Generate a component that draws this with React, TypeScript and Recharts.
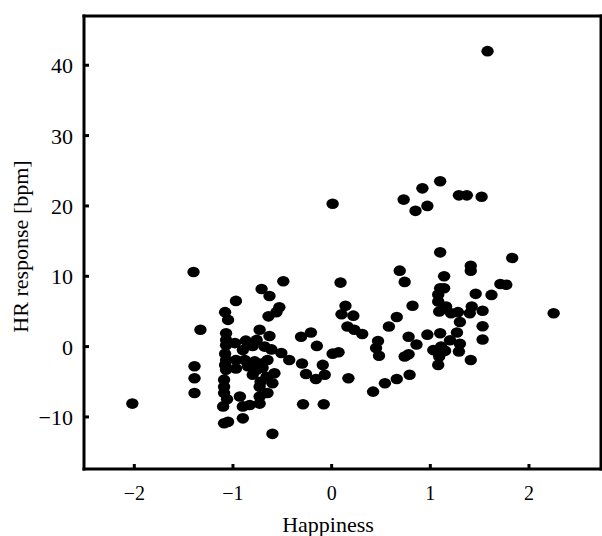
import { ScatterChart, Scatter, XAxis, YAxis } from "recharts";

// Happiness score (x) and heart-rate response in bpm (y), one entry per subject
const happiness = [
  -2.02, -1.4, -1.33, -1.39, -1.39, -1.39,
  -0.49, -0.71, -0.63, -0.97, -0.53, -0.56, -1.08, -1.05, -0.64, -0.73, -0.63, -1.07, -1.07, -1.07,
  -0.87, -0.98, -0.76, -0.9, -0.8, -0.68, -0.61, -0.51, -0.43, -1.07, -0.97, -0.88, -0.78, -0.71,
  -0.65, -1.07, -0.97, -0.76, -0.58, -0.66, -1.09, -1.09, -0.6, -0.73, -1.09, -0.65, -0.93, -0.73,
  -1.1, -0.9, -0.83, -0.73, -1.05, -1.09, -0.9, -0.6, -0.29, -0.08, -1.08, -1.08, -0.85, -0.7,
  -0.8, -1.06, -0.72,
  -0.31, -0.21, -0.15, -0.3, -0.09, -0.26, -0.16, -0.07, 0.01, 0.07, 0.09, 0.01, 0.14, 0.1, 0.22,
  0.16, 0.23, 0.31, 0.17, 0.42, 0.54, 0.66, 0.79, 0.47, 0.45, 0.48, 0.58, 0.66, 0.82, 0.78, 0.86,
  0.74, 0.78, 0.69, 0.74, 0.73, 0.92, 0.85, 0.97, 1.1, 1.29, 1.37, 1.52, 1.58,
  1.1, 1.83, 1.41, 1.41, 1.14, 1.1, 1.14, 1.08, 1.08, 1.16, 1.09, 1.21, 1.28, 1.3, 1.46, 1.62,
  1.71, 1.77, 1.42, 1.4, 1.53, 1.53, 1.53, 2.25, 0.97, 1.1, 1.2, 1.27, 1.3, 1.29, 1.03, 1.11,
  1.15, 1.09, 1.08, 1.41,
];

const hrResponse = [
  -8.1, 10.6, 2.4, -2.8, -4.5, -6.6,
  9.3, 8.2, 7.2, 6.5, 5.6, 4.9, 4.9, 3.8, 4.3, 2.4, 1.5, 1.9, 0.95, 0.2,
  0.85, 0.5, 0.95, -0.5, 0.1, 0.0, -0.4, -0.9, -1.9, -1.9, -1.9, -1.9, -2.1, -2.4,
  -1.9, -3.3, -3.1, -3.3, -3.8, -4.3, -4.7, -5.7, -5.2, -5.7, -6.6, -6.6, -7.1, -7.1,
  -8.5, -8.5, -8.3, -8.1, -10.7, -10.9, -10.2, -12.4, -8.2, -8.2, -1.0, -2.6, -2.8, -3.0,
  -4.0, -7.5, -5.0,
  1.4, 2.0, 0.1, -2.4, -2.6, -3.9, -4.6, -4.0, -1.0, -0.8, 9.1, 20.3, 5.8, 4.6, 4.4,
  2.85, 2.4, 1.8, -4.5, -6.4, -5.2, -4.6, -4.0, 0.8, -0.2, -1.3, 2.85, 4.2, 5.8, 1.4, 0.3,
  -1.4, -1.1, 10.8, 9.2, 20.9, 22.5, 19.3, 20.0, 23.5, 21.5, 21.5, 21.3, 42.0,
  13.4, 12.6, 11.5, 10.8, 10.0, 8.3, 8.3, 7.4, 6.4, 5.7, 5.0, 4.75, 4.9, 3.5, 7.5, 7.35,
  8.9, 8.8, 5.7, 4.75, 5.1, 2.9, 1.0, 4.75, 1.7, 1.9, 0.9, 2.0, 0.4, -0.7, -0.5, 0.0,
  -0.6, -1.4, -2.6, -1.9,
];

const xTicks = [-2, -1, 0, 1, 2];
const yTicks = [-10, 0, 10, 20, 30, 40];

const points = happiness.map((x, i) => ({ x, y: hrResponse[i] }));

const font = '"Liberation Serif", "Times New Roman", serif';
const fmt = (v: number) => (v < 0 ? "\u2212" + Math.abs(v) : String(v));
const frame = { stroke: "#000", strokeWidth: 3, strokeLinecap: "square" as const };

function BottomTick({ x, y, payload }: any) {
  return (
    <g>
      <line x1={x} y1={y} x2={x} y2={y - 5} stroke="#000" strokeWidth={3} />
      <text x={x} y={y + 31} textAnchor="middle" fontSize={20} fontFamily={font} fill="#000">
        {fmt(payload.value)}
      </text>
    </g>
  );
}

function TopTick({ x, y }: any) {
  return <line x1={x} y1={y} x2={x} y2={y + 5} stroke="#000" strokeWidth={3} />;
}

function LeftTick({ x, y, payload }: any) {
  return (
    <g>
      <line x1={x} y1={y} x2={x + 5} y2={y} stroke="#000" strokeWidth={3} />
      <text x={x - 11} y={y + 8} textAnchor="end" fontSize={22} fontFamily={font} fill="#000">
        {fmt(payload.value)}
      </text>
    </g>
  );
}

function RightTick({ x, y }: any) {
  return <line x1={x} y1={y} x2={x - 5} y2={y} stroke="#000" strokeWidth={3} />;
}

const Dot = (p: any) => <ellipse cx={p.cx} cy={p.cy} rx={6.2} ry={5.3} fill="#000" />;

export default function App() {
  return (
    <div style={{ position: "absolute", top: 0, left: 0, width: 602, height: 536, fontFamily: font }}>
      <ScatterChart width={602} height={536} margin={{ top: 0, right: 0, bottom: 0, left: 0 }}>
        <XAxis
          type="number"
          dataKey="x"
          domain={[-2.51, 2.73]}
          ticks={xTicks}
          interval={0}
          height={67}
          tickSize={0}
          tickMargin={0}
          tickLine={false}
          axisLine={frame}
          tick={(p: any) => <BottomTick {...p} />}
          label={{
            content: ({ viewBox }: any) => (
              <text
                x={viewBox.x + 244}
                y={viewBox.y + 63}
                textAnchor="middle"
                fontSize={22}
                fontFamily={font}
                fill="#000"
              >
                Happiness
              </text>
            ),
          }}
        />
        <XAxis
          xAxisId="top"
          orientation="top"
          type="number"
          domain={[-2.51, 2.73]}
          ticks={xTicks}
          interval={0}
          height={16}
          tickSize={0}
          tickMargin={0}
          tickLine={false}
          axisLine={frame}
          tick={(p: any) => <TopTick {...p} />}
        />
        <YAxis
          type="number"
          dataKey="y"
          domain={[-17.4, 47]}
          ticks={yTicks}
          interval={0}
          width={84}
          tickSize={0}
          tickMargin={0}
          tickLine={false}
          axisLine={frame}
          tick={(p: any) => <LeftTick {...p} />}
          label={{
            content: ({ viewBox }: any) => {
              const cx = viewBox.x + 20;
              const cy = viewBox.y + viewBox.height / 2 + 4;
              return (
                <text
                  x={cx}
                  y={cy}
                  transform={`rotate(-90, ${cx}, ${cy})`}
                  textAnchor="middle"
                  dominantBaseline="central"
                  fontSize={22}
                  fontFamily={font}
                  fill="#000"
                >
                  HR response [bpm]
                </text>
              );
            },
          }}
        />
        <YAxis
          yAxisId="right"
          orientation="right"
          type="number"
          domain={[-17.4, 47]}
          ticks={yTicks}
          interval={0}
          width={1}
          tickSize={0}
          tickMargin={0}
          tickLine={false}
          axisLine={frame}
          tick={(p: any) => <RightTick {...p} />}
        />
        <Scatter data={points} fill="#000" shape={Dot} isAnimationActive={false} />
      </ScatterChart>
    </div>
  );
}
